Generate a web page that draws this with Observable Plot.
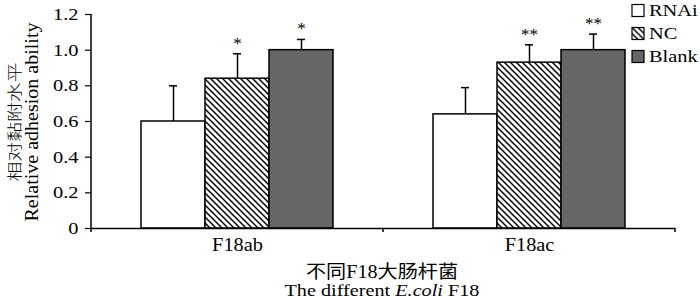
<!DOCTYPE html>
<html><head><meta charset="utf-8">
<script src="https://cdn.jsdelivr.net/npm/d3@7"></script>
<script src="https://cdn.jsdelivr.net/npm/@observablehq/plot@0.6"></script>
<style>body{margin:0;background:#fff} #chart{width:700px;height:300px}</style>
</head><body><div id="chart"></div>
<script>
const groups = ["F18ab", "F18ac"];
const series = ["RNAi", "NC", "Blank"];
const rnai = [0.60, 0.64];
const nc = [0.84, 0.93];
const blank = [1.00, 1.00];
const rnaiErr = [0.20, 0.15];
const ncErr = [0.14, 0.10];
const blankErr = [0.06, 0.09];
const rnaiSig = ["", ""];
const ncSig = ["*", "**"];
const blankSig = ["*", "**"];
const yTicks = [0, 0.2, 0.4, 0.6, 0.8, 1.0, 1.2];
const fills = ["#ffffff", "url(#hatch)", "#666666"];
const yTitleCn = "相对黏附水平";
const yTitleEn = "Relative adhesion ability";
const xTitleCn = "不同F18大肠杆菌";

const data = [];
groups.forEach((g, i) => {
  [[rnai, rnaiErr, rnaiSig], [nc, ncErr, ncSig], [blank, blankErr, blankSig]].forEach(([v, e, s], j) => {
    data.push({group: g, series: series[j], value: v[i], top: +(v[i] + e[i]).toFixed(3), sig: s[i]});
  });
});

const serif = "'Liberation Serif', 'Times New Roman', 'Noto Sans CJK SC', serif";

const plot = Plot.plot({
  width: 700, height: 300,
  marginLeft: 91, marginRight: 25, marginTop: 14, marginBottom: 72,
  style: {fontFamily: serif, color: "#000", background: "#fff", overflow: "visible"},
  fx: {domain: groups, padding: 0, label: null},
  x: {domain: series, paddingInner: 0, paddingOuter: 0.765, axis: null},
  y: {domain: [0, 1.2], label: null},
  color: {domain: series, range: fills},
  marks: [
    Plot.barY(data, {fx: "group", x: "series", y: "value", fill: "series", stroke: "#000", strokeWidth: 1.5}),
    Plot.ruleX(data, {fx: "group", x: "series", y1: "value", y2: "top", stroke: "#000", strokeWidth: 1.5}),
    Plot.tickY(data, {fx: "group", x: "series", y: "top", stroke: "#000", strokeWidth: 1.5, insetLeft: 28, insetRight: 28}),
    Plot.text(data, {fx: "group", x: "series", y: "top", text: "sig", lineAnchor: "bottom", dy: -5, fontSize: 17, fill: "#000"}),
    Plot.ruleY([0], {stroke: "#000", strokeWidth: 1.5}),
    Plot.axisY({ticks: yTicks, tickFormat: d => d === 0 ? "0" : d.toFixed(1), tickSize: 6, tickPadding: 7, fontSize: 17, label: null, strokeWidth: 1.2}),
    Plot.axisFx({anchor: "bottom", tickSize: 0, tickPadding: 9, fontSize: 18.5, label: null})
  ]
});

document.getElementById("chart").appendChild(plot);

function stretch(sel, f) {
  sel.each(function () {
    const L = this.getComputedTextLength();
    this.setAttribute("textLength", (L * f).toFixed(1));
    this.setAttribute("lengthAdjust", "spacingAndGlyphs");
  });
}

const svg = d3.select(plot);
const defs = svg.insert("defs", ":first-child");
const pat = defs.append("pattern").attr("id", "hatch").attr("patternUnits", "userSpaceOnUse")
  .attr("width", 6).attr("height", 6);
pat.append("rect").attr("width", 6).attr("height", 6).attr("fill", "#fff");
pat.append("path").attr("d", "M0,0L6,6M-1,5L1,7M5,-1L7,1").attr("stroke", "#000").attr("stroke-width", 1.5);

stretch(svg.selectAll('g[aria-label="y-axis tick label"] text'), 1.2);
stretch(svg.selectAll('g[aria-label="fx-axis tick label"] text'), 1.1);

const fx = plot.scale("fx");
const y = plot.scale("y");
const left = fx.apply(groups[0]);
const bw = fx.bandwidth;
const y0 = y.apply(0), yTop = y.apply(1.2);

// y axis line
svg.append("line").attr("x1", left).attr("x2", left).attr("y1", yTop).attr("y2", y0)
  .attr("stroke", "#000").attr("stroke-width", 1.5);
// category boundary ticks
const edges = [left, ...groups.map(g => fx.apply(g) + bw)];
svg.append("g").selectAll("line").data(edges).join("line")
  .attr("x1", d => d).attr("x2", d => d).attr("y1", y0).attr("y2", y0 + 4)
  .attr("stroke", "#000").attr("stroke-width", 1.5);

// y title
const gy = svg.append("g").attr("font-family", serif).attr("fill", "#000").attr("text-anchor", "middle");
const yc = gy.append("text").attr("transform", `translate(19.5,122) rotate(-90)`).attr("font-size", 15)
  .attr("font-family", "'Noto Sans CJK SC', sans-serif").attr("font-weight", 300).text(yTitleCn);
const ye = gy.append("text").attr("transform", `translate(37.5,122) rotate(-90)`).attr("font-size", 18.5).text(yTitleEn);
yc.attr("textLength", 119).attr("lengthAdjust", "spacingAndGlyphs");
ye.attr("textLength", 199).attr("lengthAdjust", "spacingAndGlyphs");

// x title
const cx = (left + edges[edges.length - 1]) / 2 - 1;
const gx = svg.append("g").attr("font-family", serif).attr("fill", "#000").attr("text-anchor", "middle");
const xc = gx.append("text").attr("x", cx).attr("y", 278).attr("font-size", 18)
  .attr("font-family", "'Liberation Serif', 'Noto Sans CJK SC', serif").text(xTitleCn);
const en = gx.append("text").attr("x", cx).attr("y", 296).attr("font-size", 17);
en.append("tspan").text("The different ");
en.append("tspan").attr("font-style", "italic").text("E.coli");
en.append("tspan").text(" F18");
xc.attr("textLength", 152).attr("lengthAdjust", "spacingAndGlyphs");
en.attr("textLength", 195).attr("lengthAdjust", "spacingAndGlyphs");

// legend
const lg = svg.append("g").attr("font-family", serif).attr("font-size", 17).attr("fill", "#000").attr("text-anchor", "start");
const rows = lg.selectAll("g").data(series).join("g")
  .attr("transform", (d, i) => `translate(632,${4.5 + i * 23})`);
rows.append("rect").attr("width", 12).attr("height", 12)
  .attr("fill", (d, i) => fills[i]).attr("stroke", "#000").attr("stroke-width", 1.2);
const lt = rows.append("text").attr("x", 17).attr("y", 11.5).text(d => d);
stretch(lt, 1.2);
</script>
</body></html>
